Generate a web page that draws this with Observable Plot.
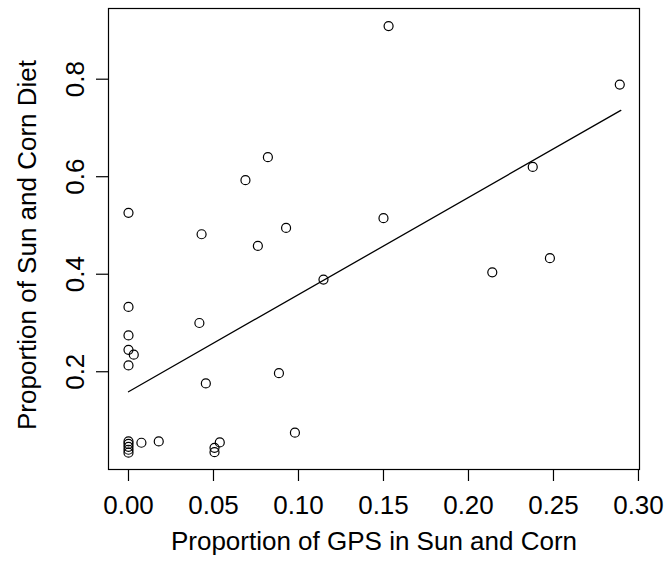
<!DOCTYPE html>
<html>
<head>
<meta charset="utf-8">
<script src="https://cdn.jsdelivr.net/npm/d3@7"></script>
<script src="https://cdn.jsdelivr.net/npm/@observablehq/plot@0.6"></script>
<style>
  html, body { margin: 0; padding: 0; background: #fff; }
  #chart svg { display: block; overflow: visible; }
</style>
</head>
<body>
<div id="chart"></div>
<script>
// Proportion of GPS in Sun and Corn (x) vs Proportion of Sun and Corn Diet (y)
const gps  = [0.153, 0.289, 0.082, 0.0688, 0.2378, 0.000, 0.043, 0.0927, 0.0761, 0.150,
              0.1147, 0.214, 0.2479, 0.000, 0.0417, 0.000, 0.000, 0.0031, 0.000, 0.0455,
              0.0885, 0.0979, 0.000, 0.000, 0.000, 0.000, 0.000, 0.0076, 0.0178, 0.0506,
              0.0506, 0.0537];
const diet = [0.909, 0.789, 0.640, 0.593, 0.620, 0.526, 0.482, 0.495, 0.458, 0.515,
              0.389, 0.404, 0.433, 0.333, 0.300, 0.2745, 0.245, 0.235, 0.213, 0.176,
              0.197, 0.075, 0.057, 0.052, 0.046, 0.040, 0.034, 0.0544, 0.057, 0.044,
              0.035, 0.055];
// fitted line endpoints
const fitX = [0, 0.2896];
const fitY = [0.159, 0.736];
const xTicks = [0, 0.05, 0.10, 0.15, 0.20, 0.25, 0.30];
const yTicks = [0.2, 0.4, 0.6, 0.8];
const xTitle = "Proportion of GPS in Sun and Corn";
const yTitle = "Proportion of Sun and Corn Diet";

const points = gps.map((x, i) => ({x, y: diet[i]}));
const fit = fitX.map((x, i) => ({x, y: fitY[i]}));

const font = "'Liberation Sans', Arial, Helvetica, sans-serif";

const chart = Plot.plot({
  width: 669,
  height: 570,
  marginLeft: 108,
  marginRight: 30,
  marginTop: 8,
  marginBottom: 101,
  style: {fontFamily: font, fontSize: "26px", color: "#000", background: "#fff"},
  x: {domain: [-0.01176, 0.3006], axis: null},
  y: {domain: [-0.0005, 0.945], axis: null},
  marks: [
    Plot.frame({stroke: "#000", strokeWidth: 1.2}),
    // x ticks
    Plot.axisX({ticks: xTicks, tickSize: 12, tickFormat: () => "", label: null, stroke: "#000", strokeWidth: 1.2}),
    Plot.text(xTicks, {x: d => d, text: d => d.toFixed(2), frameAnchor: "bottom", dy: 36, lineAnchor: "middle", fontSize: 26, fill: "#000"}),
    // y ticks
    Plot.axisY({ticks: yTicks, tickSize: 12, tickFormat: () => "", label: null, stroke: "#000", strokeWidth: 1.2}),
    Plot.text(yTicks, {y: d => d, text: d => d.toFixed(1), frameAnchor: "left", dx: -33, rotate: -90, textAnchor: "middle", lineAnchor: "middle", fontSize: 26, fill: "#000"}),
    // titles
    Plot.text([xTitle], {text: d => d, frameAnchor: "bottom", dy: 72, textAnchor: "middle", lineAnchor: "middle", fontSize: 26, fill: "#000"}),
    Plot.text([yTitle], {text: d => d, frameAnchor: "left", dx: -81, dy: 6, rotate: -90, textAnchor: "middle", lineAnchor: "middle", fontSize: 26, fill: "#000"}),
    // regression line
    Plot.line(fit, {x: "x", y: "y", stroke: "#000", strokeWidth: 1.3}),
    // points
    Plot.dot(points, {x: "x", y: "y", r: 4.5, stroke: "#000", fill: "none", strokeWidth: 1.2})
  ]
});
document.getElementById("chart").appendChild(chart);
</script>
</body>
</html>
